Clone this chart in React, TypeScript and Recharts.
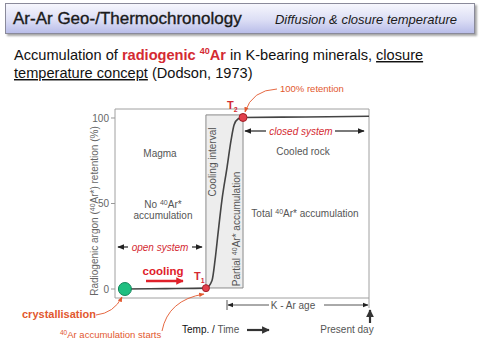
import React from 'react';
import { LineChart, Line, XAxis, YAxis, ReferenceArea, ReferenceDot } from 'recharts';

// Curve: radiogenic argon retention (%) versus cooling time (arbitrary units 0-100)
const curveX = [3.9, 20, 35.8, 38.2, 39.4, 40.6, 42.1, 44.1, 45.7, 46.9, 48.4, 50.4, 75, 100];
const curveY = [0, 0.2, 0.5, 5, 17, 33, 52, 71, 87, 96, 99.4, 100.3, 100.6, 101];

// Marked points: crystallisation, T1, T2
const markerNames = ['crystallisation', 'T1', 'T2'];
const markerX = [3.9, 35.8, 50.4];
const markerY = [0, 0.5, 100.3];

const yTicks = [0, 50, 100];
const yDomain = [-5.26, 105.26];
const xDomain = [0, 100];

const curveData = curveX.map((x, i) => ({ x, y: curveY[i] }));

const FONT = '"Liberation Sans", Arial, Helvetica, sans-serif';
const RED = '#d42a32';
const ORANGE = '#e2582e';
const GRAY = '#555';

export default function App() {
  return (
    <div style={{ position: 'absolute', left: 0, top: 0, width: 480, height: 359, background: '#fff', fontFamily: FONT, overflow: 'hidden' }}>
      <div
        style={{
          position: 'absolute', left: 5, top: 3, width: 468, height: 29,
          border: '1px solid #8a8a9a',
          background: 'linear-gradient(to bottom, #f6f6fd 0%, #dcdef5 55%, #b9bde9 100%)',
          boxShadow: '2px 2px 2px rgba(0,0,0,0.35)',
        }}
      />
      <div style={{ position: 'absolute', left: 0, top: 0 }}>
        <LineChart width={480} height={359} data={curveData} margin={{ top: 109, right: 111, bottom: 61, left: 75 }}>
          <XAxis dataKey="x" type="number" domain={xDomain} hide allowDataOverflow />
          <YAxis
            type="number"
            domain={yDomain}
            ticks={yTicks}
            width={40}
            allowDataOverflow
            axisLine={false}
            tickLine={{ stroke: '#999' }}
            tickSize={4}
            tick={{ fontSize: 10, fill: '#666', fontFamily: FONT }}
          />
          <ReferenceArea x1={xDomain[0]} x2={xDomain[1]} y1={yDomain[0]} y2={yDomain[1]} fill="none" stroke="#a0a0a0" strokeWidth={1} ifOverflow="visible" />
          <ReferenceArea x1={markerX[1]} x2={markerX[2]} y1={0.6} y2={101.8} fill="#ededed" fillOpacity={1} stroke="#8a8a8a" strokeWidth={1} ifOverflow="visible" />
          <Line dataKey="y" type="monotone" stroke="#444" strokeWidth={1.6} dot={false} isAnimationActive={false} />
          <ReferenceDot x={markerX[0]} y={markerY[0]} r={6.5} fill="#1fbf80" stroke="#14855a" strokeWidth={1} ifOverflow="visible" />
          <ReferenceDot x={markerX[1]} y={markerY[1]} r={3.5} fill="#e2404c" stroke="#a02028" strokeWidth={1} ifOverflow="visible" />
          <ReferenceDot x={markerX[2]} y={markerY[2]} r={4} fill="#e2404c" stroke="#a02028" strokeWidth={1} ifOverflow="visible" />
        </LineChart>
      </div>
      <svg width={480} height={359} style={{ position: 'absolute', left: 0, top: 0, pointerEvents: 'none' }} fontFamily={FONT}>
        <defs>
          <marker id="ahBlack" viewBox="0 0 10 10" refX="9" refY="5" markerWidth="6" markerHeight="6" orient="auto-start-reverse">
            <path d="M0,1 L10,5 L0,9 z" fill="#222" />
          </marker>
          <marker id="ahRed" viewBox="0 0 10 10" refX="9" refY="5" markerWidth="3" markerHeight="3" orient="auto">
            <path d="M0,0 L10,5 L0,10 z" fill="#e0202a" />
          </marker>
          <marker id="ahOrange" viewBox="0 0 10 10" refX="9" refY="5" markerWidth="6" markerHeight="6" orient="auto">
            <path d="M0,1 L10,5 L0,9 z" fill={ORANGE} />
          </marker>
          <marker id="ahDark" viewBox="0 0 10 10" refX="9" refY="5" markerWidth="3.5" markerHeight="3.5" orient="auto">
            <path d="M0,0 L10,5 L0,10 z" fill="#333" />
          </marker>
        </defs>

        {/* header */}
        <text x={13} y={24} fontSize={17} fill="#1a1a1a" stroke="#1a1a1a" strokeWidth={0.35}>Ar-Ar Geo-/Thermochronology</text>
        <text x={457} y={24} fontSize={13} fill="#1a1a1a" fontStyle="italic" textAnchor="end">Diffusion &amp; closure temperature</text>

        {/* subtitle */}
        <text x={14} y={60} fontSize={14.6} fill="#111">
          Accumulation of{' '}
          <tspan fill={RED} fontWeight="bold">radiogenic </tspan>
          <tspan fill={RED} fontWeight="bold" fontSize={9} dy={-6}>40</tspan>
          <tspan fill={RED} fontWeight="bold" dy={6}>Ar</tspan>
          <tspan> in K-bearing minerals, </tspan>
          <tspan textDecoration="underline">closure</tspan>
        </text>
        <text x={14} y={78} fontSize={14.6} fill="#111">
          <tspan textDecoration="underline">temperature concept</tspan>
          <tspan> (Dodson, 1973)</tspan>
        </text>

        {/* y axis label */}
        <text transform="translate(98,211) rotate(-90)" textAnchor="middle" fontSize={10} fill="#666">
          Radiogenic argon (<tspan fontSize={7} dy={-3}>40</tspan><tspan dy={3}>Ar*) retention (%)</tspan>
        </text>

        {/* region labels */}
        <text x={160} y={157} fontSize={10} fill={GRAY} textAnchor="middle">Magma</text>
        <text x={163} y={208} fontSize={10} fill={GRAY} textAnchor="middle">
          No <tspan fontSize={7} dy={-3}>40</tspan><tspan dy={3}>Ar*</tspan>
        </text>
        <text x={163} y={219} fontSize={10} fill={GRAY} textAnchor="middle">accumulation</text>
        <text x={303} y={155} fontSize={10} fill={GRAY} textAnchor="middle">Cooled rock</text>
        <text x={305} y={217} fontSize={10} fill={GRAY} textAnchor="middle">
          Total <tspan fontSize={7} dy={-3}>40</tspan><tspan dy={3}>Ar* accumulation</tspan>
        </text>
        <text transform="translate(216,162) rotate(-90)" textAnchor="middle" fontSize={10} fill={GRAY}>Cooling interval</text>
        <text transform="translate(240,229) rotate(-90)" textAnchor="middle" fontSize={10} fill={GRAY}>
          Partial <tspan fontSize={7} dy={-3}>40</tspan><tspan dy={3}>Ar* accumulation</tspan>
        </text>

        {/* closed system */}
        <text x={301} y={134.5} fontSize={10} fill={RED} fontStyle="italic" textAnchor="middle">closed system</text>
        <line x1={266} y1={131} x2={245} y2={131} stroke="#222" strokeWidth={1.2} markerEnd="url(#ahBlack)" />
        <line x1={335} y1={131} x2={364} y2={131} stroke="#222" strokeWidth={1.2} markerEnd="url(#ahBlack)" />

        {/* open system */}
        <text x={160} y={250.5} fontSize={10} fill={RED} fontStyle="italic" textAnchor="middle">open system</text>
        <line x1={128} y1={247} x2={118} y2={247} stroke="#222" strokeWidth={1.2} markerEnd="url(#ahBlack)" />
        <line x1={192} y1={247} x2={202} y2={247} stroke="#222" strokeWidth={1.2} markerEnd="url(#ahBlack)" />

        {/* cooling */}
        <text x={163} y={275} fontSize={11.5} fill="#e0202a" fontWeight="bold" textAnchor="middle">cooling</text>
        <line x1={146} y1={281} x2={183} y2={281} stroke="#e0202a" strokeWidth={2.5} markerEnd="url(#ahRed)" />

        {/* T labels */}
        <text x={194} y={280} fontSize={11} fill={RED} fontWeight="bold">T<tspan fontSize={7} dy={3}>1</tspan></text>
        <text x={227} y={109} fontSize={11} fill={RED} fontWeight="bold">T<tspan fontSize={7} dy={3}>2</tspan></text>

        {/* 100% retention */}
        <text x={280} y={92} fontSize={9.5} fill={ORANGE}>100% retention</text>
        <path d="M277,89 Q252,90 245,112" fill="none" stroke={ORANGE} strokeWidth={0.9} markerEnd="url(#ahOrange)" />

        {/* crystallisation */}
        <text x={22} y={318} fontSize={11} fill={ORANGE} fontWeight="bold">crystallisation</text>
        <path d="M96,315 Q114,313 122,297" fill="none" stroke={ORANGE} strokeWidth={0.9} markerEnd="url(#ahOrange)" />

        {/* accumulation starts */}
        <text x={60} y={338} fontSize={9.5} fill={ORANGE}>
          <tspan fontSize={6.5} dy={-3}>40</tspan><tspan dy={3}>Ar accumulation starts</tspan>
        </text>
        <path d="M162,331 Q168,300 204,294" fill="none" stroke={ORANGE} strokeWidth={0.9} markerEnd="url(#ahOrange)" />

        {/* Temp / Time */}
        <text x={182} y={333} fontSize={10} fill="#111">Temp. / <tspan fill="#555">Time</tspan></text>
        <line x1={247} y1={330} x2={269} y2={330} stroke="#333" strokeWidth={2.2} markerEnd="url(#ahDark)" />

        {/* K-Ar age */}
        <text x={293} y={308.5} fontSize={10} fill={GRAY} textAnchor="middle">K - Ar age</text>
        <line x1={227} y1={300} x2={227} y2={310} stroke="#555" strokeWidth={1} />
        <line x1={269} y1={305} x2={228} y2={305} stroke="#555" strokeWidth={1} markerEnd="url(#ahBlack)" />
        <line x1={324} y1={305} x2={368} y2={305} stroke="#555" strokeWidth={1} markerEnd="url(#ahBlack)" />
        <line x1={369} y1={298} x2={369} y2={308} stroke="#a0a0a0" strokeWidth={1} />

        {/* Present day */}
        <line x1={370} y1={323} x2={370} y2={310} stroke="#333" strokeWidth={2.2} markerEnd="url(#ahDark)" />
        <text x={347} y={333} fontSize={10} fill={GRAY} textAnchor="middle">Present day</text>
      </svg>
    </div>
  );
}
